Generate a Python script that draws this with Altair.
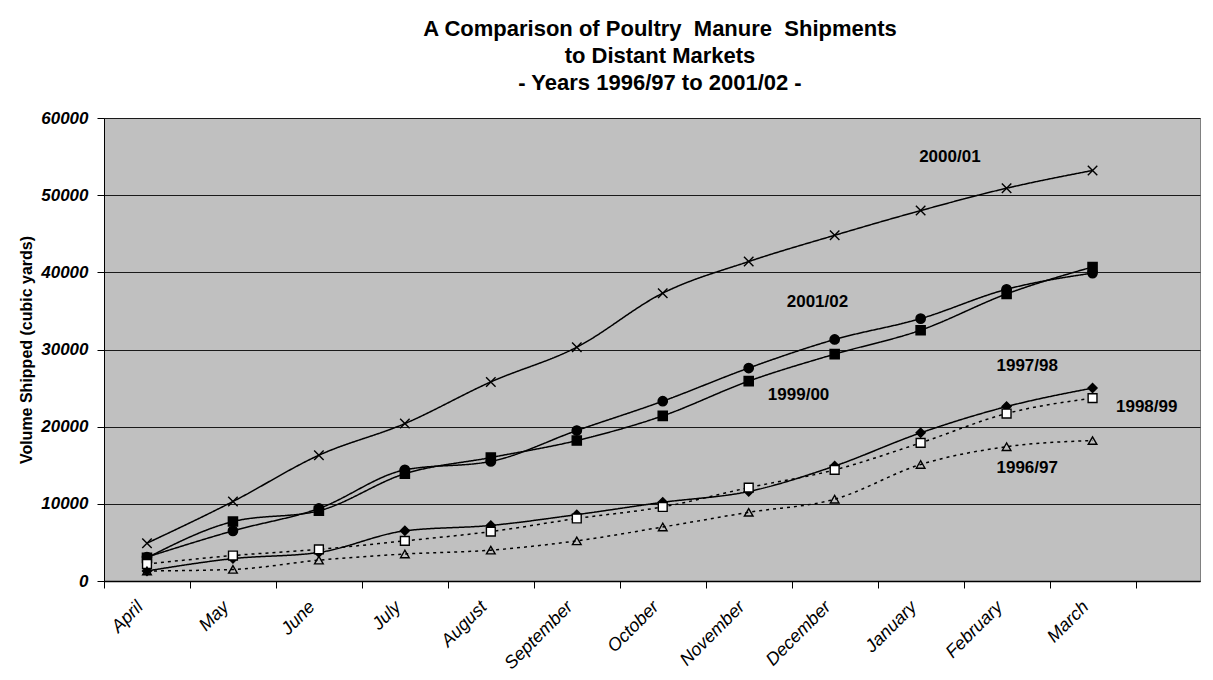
import altair as alt
import pandas as pd

FONT = "Liberation Sans"

months = ["April", "May", "June", "July", "August", "September", "October",
          "November", "December", "January", "February", "March"]

series_names = ["2000/01", "2001/02", "1999/00", "1997/98", "1998/99", "1996/97"]

v_2000_01 = [4900, 10300, 16300, 20400, 25800, 30300, 37300, 41400, 44800, 48000, 50900, 53200]
v_2001_02 = [3100, 6500, 9400, 14400, 15500, 19500, 23300, 27600, 31300, 34000, 37800, 39900]
v_1999_00 = [3000, 7700, 9100, 13900, 16000, 18200, 21400, 25900, 29400, 32500, 37200, 40700]
v_1997_98 = [1300, 2900, 3700, 6500, 7200, 8600, 10200, 11600, 14900, 19200, 22600, 25000]
v_1998_99 = [2200, 3300, 4100, 5200, 6400, 8100, 9600, 12100, 14400, 17900, 21700, 23700]
v_1996_97 = [1300, 1500, 2700, 3500, 4000, 5200, 7000, 8900, 10600, 15100, 17400, 18200]

series_values = [v_2000_01, v_2001_02, v_1999_00, v_1997_98, v_1998_99, v_1996_97]

# series label anchors: (month slot position, volume)
label_pos = [9.84, 8.30, 8.08, 10.74, 12.13, 10.74]
label_val = [55000, 36200, 24100, 27800, 22600, 14700]

y_ticks = [0, 10000, 20000, 30000, 40000, 50000, 60000]

title_lines = ["A Comparison of Poultry \u00a0Manure \u00a0Shipments",
               "to Distant Markets",
               "- Years 1996/97 to 2001/02 -"]

rows = []
for name, vals in zip(series_names, series_values):
    for i, (m, v) in enumerate(zip(months, vals)):
        rows.append({"series": name, "month": m, "slot": i + 0.5, "value": v})
df = pd.DataFrame(rows)

labels_df = pd.DataFrame({"series": series_names, "slot": label_pos, "value": label_val})

x_values = [i * 0.5 for i in range(0, 26)]
month_array = "[" + ",".join("'" + m + "'" for m in months) + ",'']"
x_axis = alt.Axis(
    values=x_values,
    labelExpr=f"(datum.value % 1 === 0) ? '' : {month_array}[floor(datum.value)]",
    tickColor={"condition": {"test": "datum.value % 1 === 0", "value": "black"},
               "value": "transparent"},
    tickSize=7,
    tickWidth=1,
    grid=False,
    domainColor="black",
    domainWidth=1.5,
    labelAngle=315,
    labelAlign="right",
    labelBaseline="middle",
    labelFont=FONT,
    labelFontStyle="italic",
    labelFontSize=18,
    labelColor="black",
    labelPadding=16,
    labelOffset=-7,
    labelOverlap=False,
    labelBound=False,
    labelFlush=False,
    title=None,
)
y_axis = alt.Axis(
    values=y_ticks,
    format="d",
    grid=True,
    gridColor="#1a1a1a",
    gridWidth=1,
    tickColor="black",
    tickSize=7,
    domainColor="black",
    labelFont=FONT,
    labelFontStyle="italic",
    labelFontWeight="bold",
    labelFontSize=17,
    labelColor="black",
    labelPadding=9,
    title="Volume Shipped (cubic yards)",
    titleFont=FONT,
    titleFontSize=16,
    titleFontWeight="bold",
    titleColor="black",
    titlePadding=6,
)

x_scale = alt.Scale(domain=[0, 12.75], nice=False, zero=False)
y_scale = alt.Scale(domain=[0, 60000], nice=False)

X = alt.X("slot:Q", scale=x_scale, axis=x_axis)
Y = alt.Y("value:Q", scale=y_scale, axis=y_axis)

dash_range = [[1, 0], [1, 0], [1, 0], [1, 0], [3, 4], [3, 4]]
shape_range = ["M-1,-1L1,1M-1,1L1,-1", "circle", "square", "diamond", "square", "triangle-up"]
fill_range = ["transparent", "black", "black", "black", "white", "transparent"]
size_range = [90, 75, 80, 64, 70, 64]

lines = alt.Chart(df).mark_line(color="black", strokeWidth=1.5, interpolate="monotone").encode(
    x=X, y=Y,
    detail="series:N",
    strokeDash=alt.StrokeDash("series:N", scale=alt.Scale(domain=series_names, range=dash_range), legend=None),
)

points = alt.Chart(df).mark_point(stroke="black", strokeWidth=1.4, opacity=1, filled=False).encode(
    x=X, y=Y,
    shape=alt.Shape("series:N", scale=alt.Scale(domain=series_names, range=shape_range), legend=None),
    fill=alt.Fill("series:N", scale=alt.Scale(domain=series_names, range=fill_range), legend=None),
    size=alt.Size("series:N", scale=alt.Scale(domain=series_names, range=size_range), legend=None),
)

texts = alt.Chart(labels_df).mark_text(
    font=FONT, fontSize=17, fontWeight="bold", color="black", align="center", baseline="middle"
).encode(x=X, y=Y, text="series:N")

chart = alt.layer(lines, points, texts).properties(
    width=1096,
    height=463,
    padding={"left": 10, "top": 10, "right": 5, "bottom": 0},
    title=alt.TitleParams(
        text=title_lines,
        font=FONT, fontSize=22, fontWeight="bold", color="black",
        anchor="middle", lineHeight=27, offset=14, dx=8,
    ),
    background="white",
).configure_view(fill="#C0C0C0", stroke="#808080", strokeWidth=1)

chart.save("out.html", embed_options={"renderer": "svg", "actions": False})
